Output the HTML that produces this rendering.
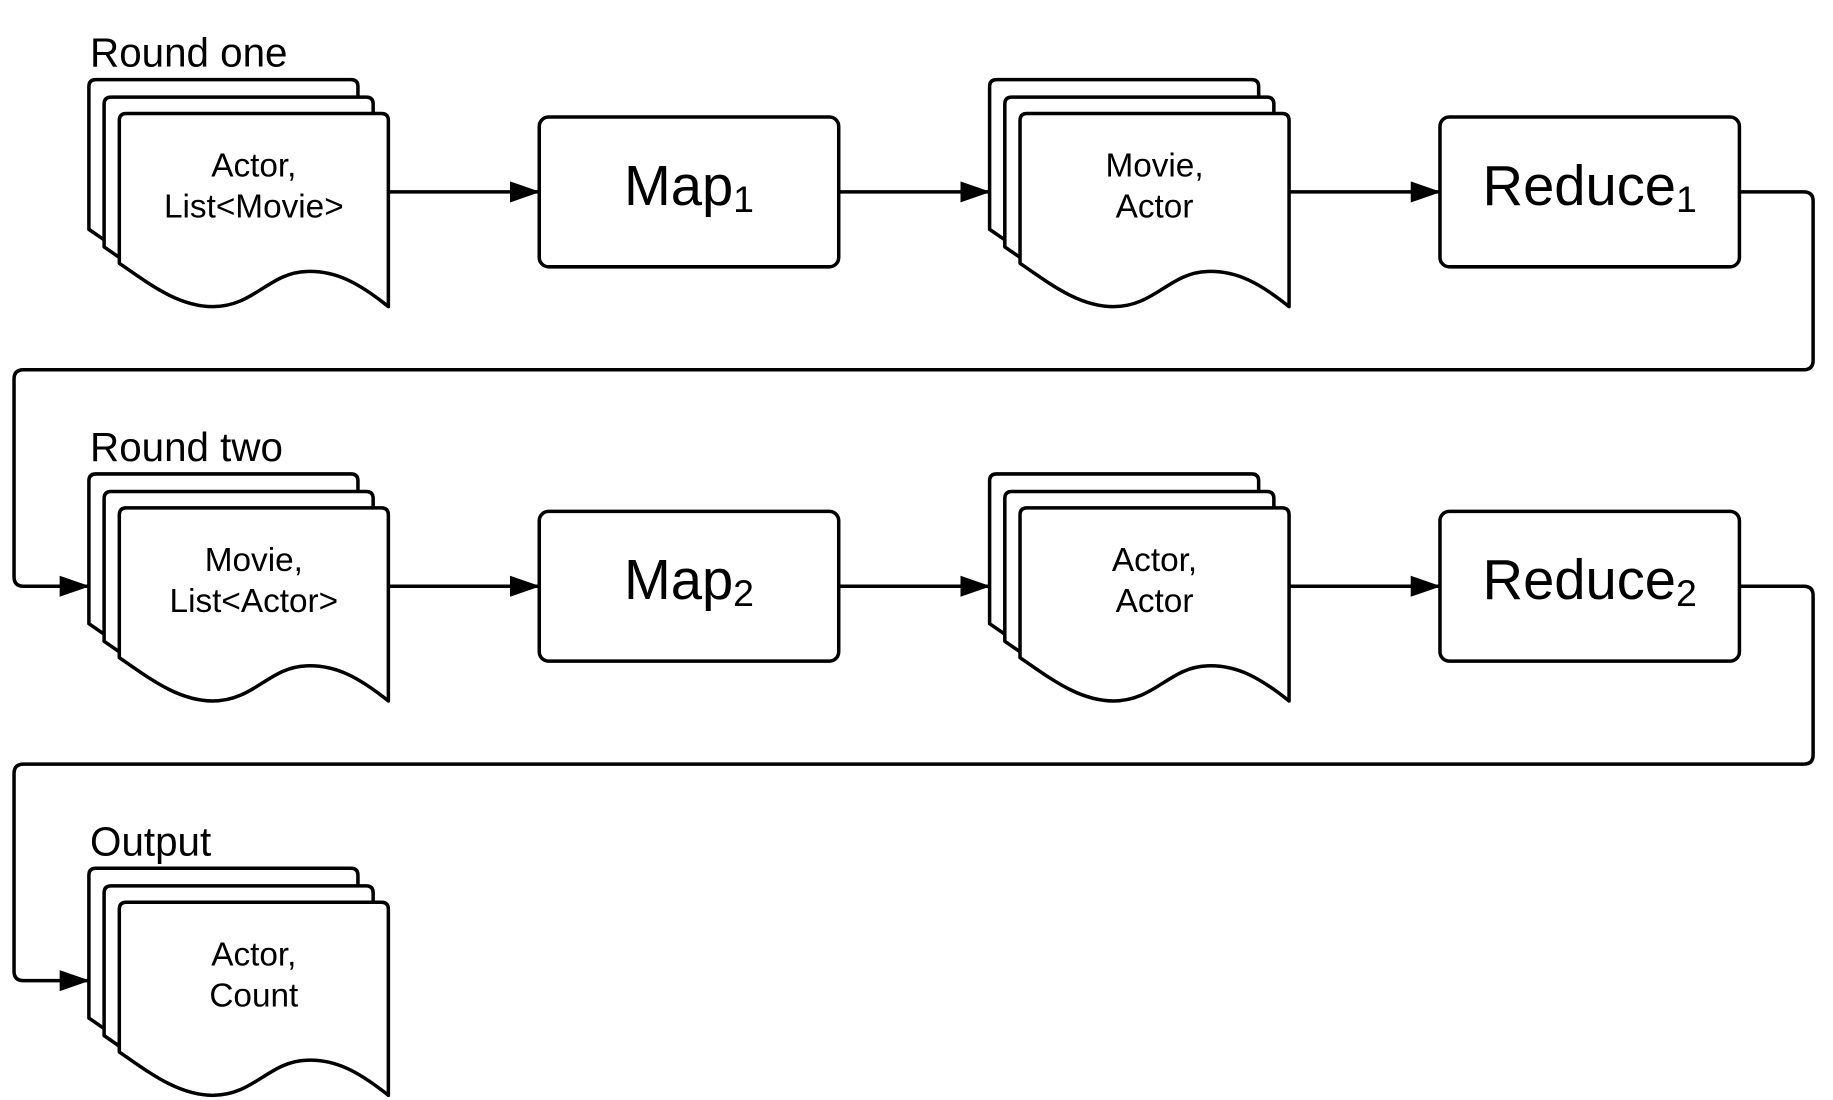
<!DOCTYPE html>
<html><head><meta charset="utf-8"><style>
html,body{margin:0;padding:0;background:#fff;}
svg{display:block;}
text{font-family:"Liberation Sans",sans-serif;fill:#000;}
</style></head><body>
<svg width="1833" height="1100" viewBox="0 0 1567 940" preserveAspectRatio="none" xmlns="http://www.w3.org/2000/svg">
<defs>
<path id="doc" d="M0,6 Q0,0 6,0 L224,0 Q230,0 230,6 L230,165 C205,145 185,134 160,135 C128,136 115,165 80,165 C50,165 25,145 0,128 Z" fill="#fff" stroke="#000" stroke-width="3" stroke-linejoin="round"/>
<g id="stack">
<use href="#doc" x="76" y="68"/>
<use href="#doc" x="89" y="83"/>
<use href="#doc" x="102" y="97"/>
</g>
<marker id="ah" markerWidth="26" markerHeight="18" refX="25" refY="9" orient="auto" markerUnits="userSpaceOnUse">
<path d="M0,0 L26,9 L0,18 Z" fill="#000"/>
</marker>
</defs>
<g fill="none" stroke="#000" stroke-width="3">
<g>
<use href="#stack"/>
<use href="#stack" x="770"/>
<rect x="461" y="100" width="256" height="128" rx="8" fill="#fff"/>
<rect x="1231" y="100" width="256" height="128" rx="8" fill="#fff"/>
<line x1="332" y1="164" x2="461" y2="164" marker-end="url(#ah)"/>
<line x1="717" y1="164" x2="846" y2="164" marker-end="url(#ah)"/>
<line x1="1102" y1="164" x2="1231" y2="164" marker-end="url(#ah)"/>
</g>
<g transform="translate(0,337)">
<use href="#stack"/>
<use href="#stack" x="770"/>
<rect x="461" y="100" width="256" height="128" rx="8" fill="#fff"/>
<rect x="1231" y="100" width="256" height="128" rx="8" fill="#fff"/>
<line x1="332" y1="164" x2="461" y2="164" marker-end="url(#ah)"/>
<line x1="717" y1="164" x2="846" y2="164" marker-end="url(#ah)"/>
<line x1="1102" y1="164" x2="1231" y2="164" marker-end="url(#ah)"/>
</g>
<use href="#stack" y="674"/>
<path d="M1487,164 L1542,164 Q1550,164 1550,172 L1550,308 Q1550,316 1542,316 L20,316 Q12,316 12,324 L12,493 Q12,501 20,501 L76,501" marker-end="url(#ah)"/>
<path d="M1487,501 L1542,501 Q1550,501 1550,509 L1550,645 Q1550,653 1542,653 L20,653 Q12,653 12,661 L12,830 Q12,838 20,838 L76,838" marker-end="url(#ah)"/>
</g>
<g font-size="34.5">
<text x="77" y="57">Round one</text>
<text x="77" y="394">Round two</text>
<text x="77" y="731">Output</text>
</g>
<g font-size="28.5" text-anchor="middle">
<text x="217" y="151">Actor,</text><text x="217" y="186">List&lt;Movie&gt;</text>
<text x="987" y="151">Movie,</text><text x="987" y="186">Actor</text>
<text x="217" y="488">Movie,</text><text x="217" y="523">List&lt;Actor&gt;</text>
<text x="987" y="488">Actor,</text><text x="987" y="523">Actor</text>
<text x="217" y="825">Actor,</text><text x="217" y="860">Count</text>
</g>
<g font-size="48" text-anchor="middle">
<text x="589" y="175">Map<tspan font-size="32" dy="6">1</tspan></text>
<text x="1359" y="175">Reduce<tspan font-size="32" dy="6">1</tspan></text>
<text x="589" y="512">Map<tspan font-size="32" dy="6">2</tspan></text>
<text x="1359" y="512">Reduce<tspan font-size="32" dy="6">2</tspan></text>
</g>
</svg>
</body></html>
